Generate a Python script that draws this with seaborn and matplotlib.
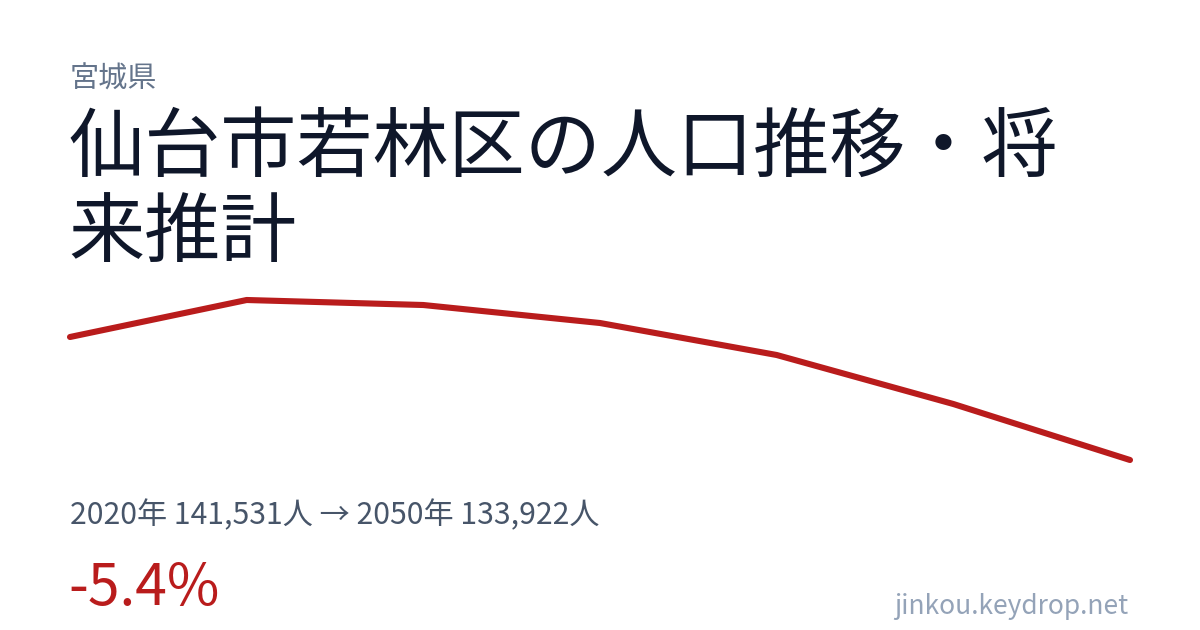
import matplotlib
matplotlib.use("Agg")
import matplotlib.pyplot as plt
import pandas as pd
import seaborn as sns

# Data
years = [2020, 2025, 2030, 2035, 2040, 2045, 2050]
population = [141531, 143820, 143510, 142397, 140418, 137386, 133922]

prefecture = "宮城県"
title_line1 = "仙台市若林区の人口推移・将"
title_line2 = "来推計"
summary = "2020年 141,531人 → 2050年 133,922人"
change = "-5.4%"
site = "jinkou.keydrop.net"

df = pd.DataFrame({"year": years, "population": population})

sns.set_theme(style="white")
plt.rcParams["font.family"] = ["Noto Sans CJK JP", "DejaVu Sans"]

W, H = 1200, 630
fig = plt.figure(figsize=(12, 6.3), dpi=100)
fig.patch.set_facecolor("white")

# line axes: spans x 70..1130, y 300..460 in pixels
ax = fig.add_axes([70 / W, 1 - 460 / H, 1060 / W, 160 / H])
sns.lineplot(data=df, x="year", y="population", ax=ax, color="#b91c1c",
             linewidth=4.4, clip_on=False)
ax.set_xlim(min(years), max(years))
ax.set_ylim(min(population), max(population))
ax.set_axis_off()

def px(x, y):
    return x / W, 1 - y / H

fig.text(*px(70, 80), prefecture, fontsize=21, color="#64748b", va="center", ha="left")
fig.text(*px(68, 149), title_line1, fontsize=54.8, color="#0f172a", va="center", ha="left")
fig.text(*px(68, 235), title_line2, fontsize=54.8, color="#0f172a", va="center", ha="left")
fig.text(*px(70, 516), summary, fontsize=21.7, color="#475569", va="center", ha="left")
fig.text(*px(68, 589), change, fontsize=41, color="#b91c1c", va="center", ha="left")
fig.text(*px(1128, 607), site, fontsize=19, color="#94a3b8", va="center", ha="right")

fig.savefig("out.png", dpi=100, facecolor="white")
